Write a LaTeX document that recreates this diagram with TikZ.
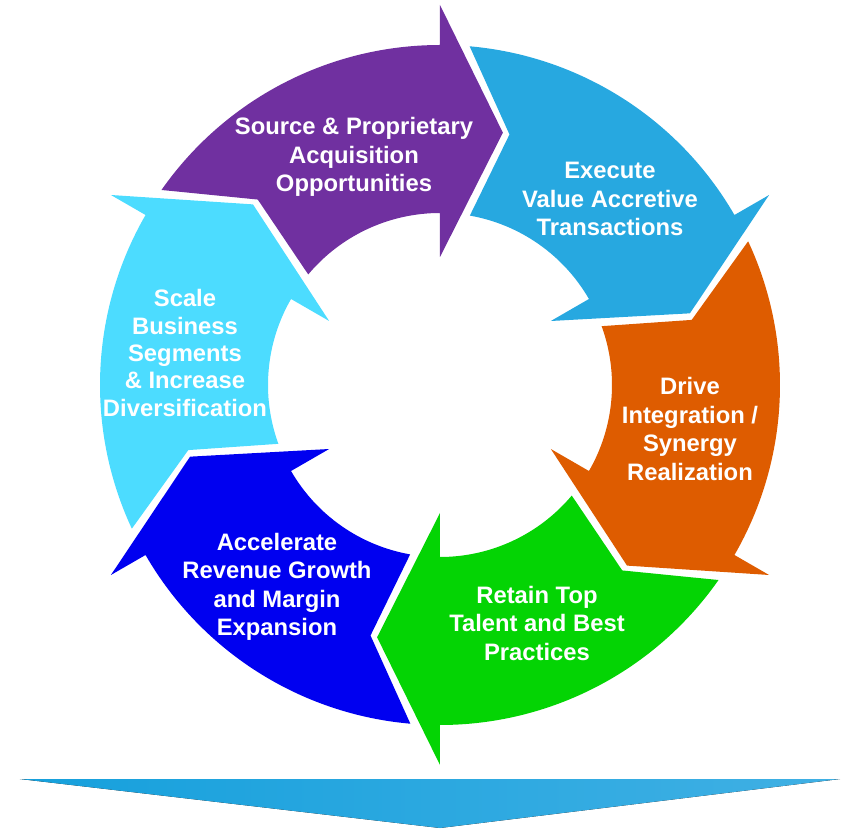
\documentclass[tikz,border=0pt]{standalone}
\usepackage{fontspec}
\setmainfont{Liberation Sans}
\definecolor{source}{HTML}{7030A0}
\definecolor{execute}{HTML}{27A8E0}
\definecolor{drive}{HTML}{DE5C00}
\definecolor{retain}{HTML}{04D404}
\definecolor{accelerate}{HTML}{0000F0}
\definecolor{scaleup}{HTML}{4CDCFF}
\definecolor{outL}{HTML}{16A0DC}
\definecolor{outR}{HTML}{40B0E4}
\tikzset{segtext/.style={white,font=\bfseries\fontsize{23.8}{28.5}\selectfont,align=center}}
\tikzset{segtextTight/.style={segtext,font=\bfseries\fontsize{23.8}{27.3}\selectfont}}
% one curved arrow of the cycle, from angle #1 clockwise to angle #2
\newcommand{\cycleseg}[3]{%
  \fill[#3] ({#1-5}:340) arc[start angle={#1-5}, end angle={#2}, radius=340]
    -- ({#2}:380) -- ({#2-14}:260) -- ({#2}:128) -- ({#2}:172)
    arc[start angle={#2}, end angle={#1-10}, radius=172]
    -- ({#1-15.5}:260) -- cycle;}

\begin{document}
\begin{tikzpicture}[x=1pt,y=1pt]
                \useasboundingbox (-440,-444) rectangle (401,385);
                \foreach \s/\c in {150/source,90/execute,30/drive,-30/retain,-90/accelerate,210/scaleup}
                  {\cycleseg{\s}{\s-60}{\c}}
                \node[segtext] (sourceTxt) at (-86,228) {Source \& Proprietary\\Acquisition\\Opportunities};
                \node[segtext] (executeTxt) at (170,186) {Execute\\Value Accretive\\Transactions};
                \node[segtext] (driveTxt) at (250,-44) {Drive\\Integration /\\Synergy\\Realization};
                \node[segtext] (retainTxt) at (97,-238) {Retain Top\\Talent and Best\\Practices};
                \node[segtext] (accelTxt) at (-163,-202) {Accelerate\\Revenue Growth\\and Margin\\Expansion};
                \node[segtextTight] (scaleTxt) at (-255,32) {Scale\\Business\\Segments\\\& Increase\\Diversification};
                % result arrow below the cycle
                \fill[left color=outL,right color=outR] (-420,-394) -- (400,-394) -- (0,-443) -- cycle;
                \end{tikzpicture}
\end{document}
